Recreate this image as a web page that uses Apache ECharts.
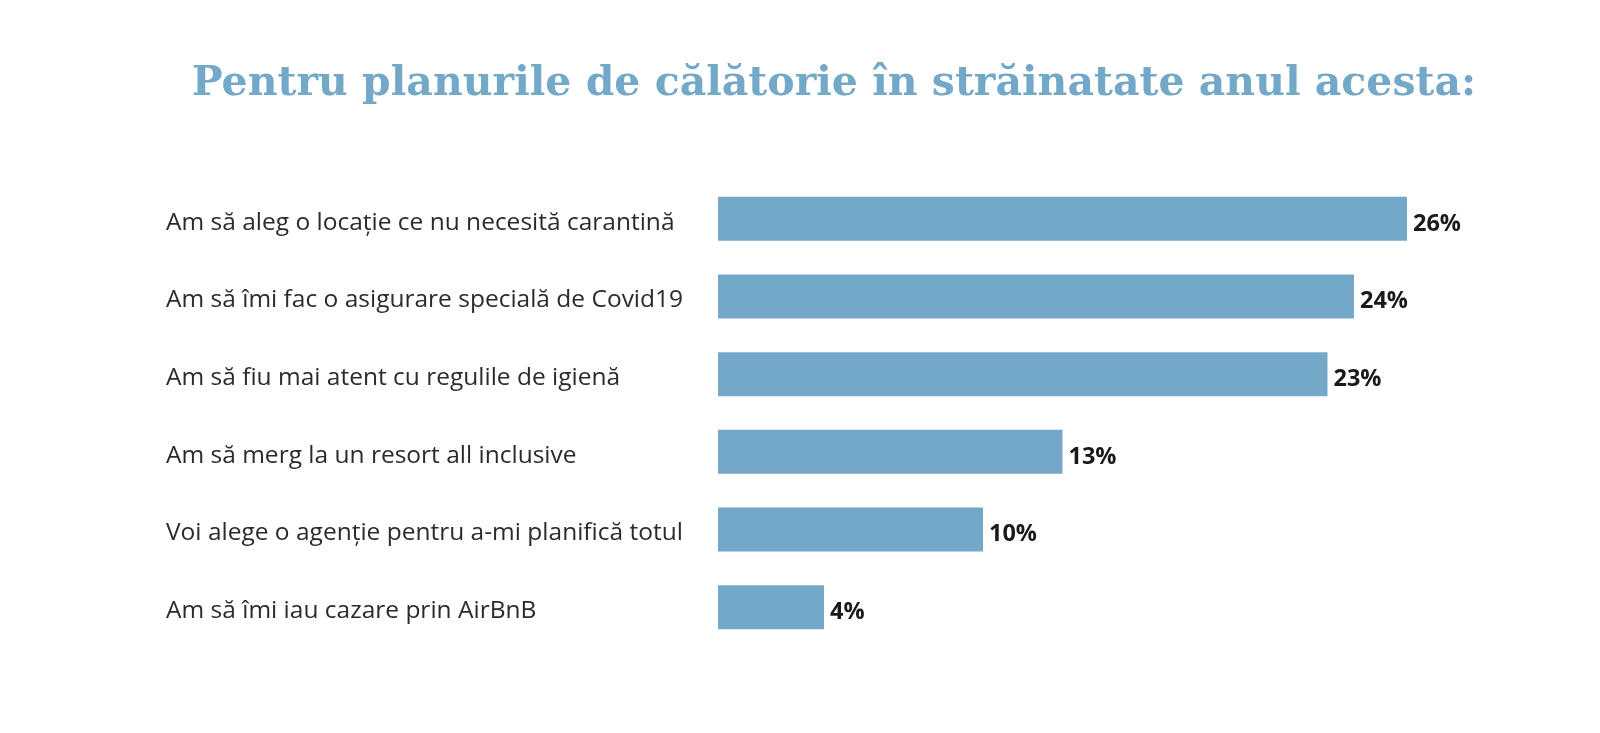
<!DOCTYPE html>
<html>
<head>
<meta charset="utf-8">
<script src="https://cdn.jsdelivr.net/npm/echarts@6/dist/echarts.min.js"></script>
<style>
  html, body { margin: 0; padding: 0; background: #fff; }
  #main { width: 1600px; height: 733px; }
</style>
</head>
<body>
<div id="main"></div>
<script>
let categories = [
    'Am să aleg o locație ce nu necesită carantină',
    'Am să îmi fac o asigurare specială de Covid19',
    'Am să fiu mai atent cu regulile de igienă',
    'Am să merg la un resort all inclusive',
    'Voi alege o agenție pentru a-mi planifică totul',
    'Am să îmi iau cazare prin AirBnB'
]
let values = [26, 24, 23, 13, 10, 4]

var myChart = echarts.init(document.getElementById('main'))

let option = {
    backgroundColor: '#ffffff',
    title: {
        text: 'Pentru planurile de călătorie în străinatate anul acesta:',
        left: 829,
        top: 59,
        textAlign: 'center',
        textStyle: {
            fontFamily: 'DejaVu Serif',
            fontWeight: 'bold',
            fontSize: 41,
            color: '#74a8c8'
        }
    },
    grid: {
        left: 718,
        right: 87,
        top: 180,
        bottom: 87
    },
    xAxis: {
        type: 'value',
        min: 0,
        max: 30,
        show: false
    },
    yAxis: {
        type: 'category',
        data: categories,
        inverse: true,
        axisLine: { show: false },
        axisTick: { show: false },
        axisLabel: {
            align: 'left',
            verticalAlign: 'top',
            lineHeight: 8,
            margin: 552,
            fontFamily: 'Open Sans',
            fontSize: 24.5,
            color: '#2b2b2b'
        }
    },
    series: [
        {
            type: 'bar',
            data: values,
            barWidth: 44,
            itemStyle: { color: '#74a8c8' },
            label: {
                show: true,
                position: 'right',
                distance: 6,
                offset: [0, 5],
                formatter: '{c}%',
                fontFamily: 'Open Sans',
                fontWeight: 'bold',
                fontSize: 23.5,
                color: '#1a1a1a'
            }
        }
    ]
}

myChart.setOption(option)
</script>
</body>
</html>
